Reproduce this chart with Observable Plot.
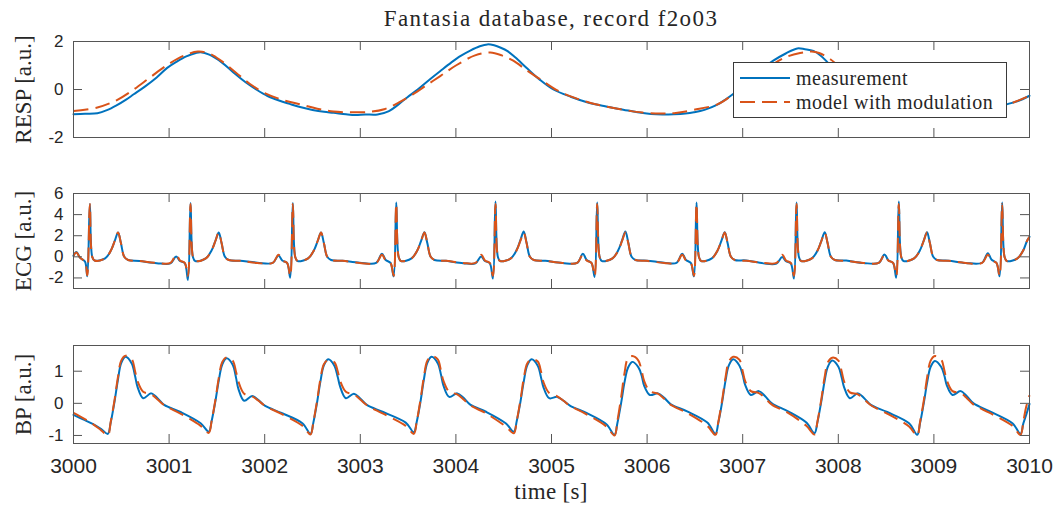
<!DOCTYPE html>
<html>
<head>
<meta charset="utf-8">
<script src="https://cdn.jsdelivr.net/npm/d3@7"></script>
<script src="https://cdn.jsdelivr.net/npm/@observablehq/plot@0.6"></script>
<style>
  html, body { margin: 0; padding: 0; background: #fff; }
  #fig { position: relative; width: 1059px; height: 509px; overflow: hidden; color: #262626;
         font-family: "Liberation Serif", "Times New Roman", serif; }
  #fig .title { position: absolute; left: 73px; width: 956px; top: 6px; text-align: center;
                font-size: 23px; line-height: 26px; letter-spacing: 1.4px; white-space: nowrap; }
  #fig .xlabel { position: absolute; left: 73px; width: 956px; top: 479px; text-align: center;
                 font-size: 23px; line-height: 26px; letter-spacing: 0.3px; white-space: nowrap; }
  #fig .panel { position: absolute; left: 0; }
  #fig .panel svg { display: block; }
  #fig .legend { position: absolute; left: 733px; top: 62px; width: 272px; height: 54px;
                 border: 1px solid #3a3a3a; background: #fff; padding: 0; z-index: 5; }
  #fig .legend .row { display: flex; align-items: center; height: 24px; font-size: 20px;
                      letter-spacing: 0.5px; white-space: nowrap; }
  #fig .legend .row:first-child { margin-top: 3px; }
  #fig .legend svg { margin-left: 6px; margin-right: 6px; flex: none; }
</style>
</head>
<body>
<div id="fig">
  <div class="title">Fantasia database, record f2o03</div>
  <div class="xlabel">time [s]</div>
</div>
<script>
// ---- shared axis data ----
const xTicks = [3000, 3001, 3002, 3003, 3004, 3005, 3006, 3007, 3008, 3009, 3010];
const respTicks = [-2, 0, 2];
const ecgTicks = [-2, 0, 2, 4, 6];
const bpTicks = [-1, 0, 1];

const seriesNames = ["measurement", "model with modulation"];
const panelLabels = ["RESP [a.u.]", "ECG [a.u.]", "BP [a.u.]"];

// ---- respiration ----
const respTime = [
  3000.00, 3000.12, 3000.25, 3000.35, 3000.45, 3000.55, 3000.63, 3000.75, 3000.87, 3000.98,
  3001.08, 3001.18, 3001.28, 3001.33, 3001.42, 3001.55, 3001.67, 3001.80, 3001.92, 3002.03,
  3002.15, 3002.26, 3002.37, 3002.50, 3002.62, 3002.72, 3002.85, 3002.95, 3003.05, 3003.18,
  3003.30, 3003.40, 3003.49, 3003.60, 3003.72, 3003.84, 3003.95, 3004.05, 3004.15, 3004.25,
  3004.33, 3004.40, 3004.47, 3004.54, 3004.62, 3004.75, 3004.88, 3005.02, 3005.20, 3005.38,
  3005.56, 3005.75, 3005.90, 3006.04, 3006.16, 3006.28, 3006.40, 3006.49, 3006.60, 3006.74,
  3006.82, 3006.90, 3007.00, 3007.10, 3007.20, 3007.32, 3007.45, 3007.57, 3007.65, 3007.74,
  3007.82, 3007.89, 3008.00, 3008.20, 3008.45, 3008.70, 3008.95, 3009.20, 3009.45, 3009.65,
  3009.77, 3009.90, 3010.00
];
const respMeasured = [
  -1.03, -1.01, -0.99, -0.86, -0.66, -0.42, -0.20, 0.13, 0.50, 0.90,
  1.16, 1.38, 1.52, 1.55, 1.45, 1.13, 0.72, 0.30, -0.02, -0.27,
  -0.46, -0.60, -0.73, -0.85, -0.93, -0.97, -1.03, -1.06, -1.04, -1.04,
  -0.90, -0.62, -0.33, 0.00, 0.40, 0.78, 1.12, 1.40, 1.62, 1.80,
  1.88, 1.84, 1.74, 1.60, 1.34, 0.86, 0.40, 0.00, -0.30, -0.54,
  -0.70, -0.84, -0.95, -1.02, -1.04, -1.03, -1.00, -0.95, -0.85, -0.62,
  -0.42, -0.19, 0.13, 0.48, 0.85, 1.20, 1.50, 1.71, 1.68, 1.61,
  1.40, 1.12, 0.70, 0.05, -0.50, -0.85, -1.00, -1.02, -0.95, -0.75,
  -0.61, -0.45, -0.26
];
const respModelTime = [
  3000.00, 3000.25, 3000.45, 3000.63, 3000.80, 3000.98, 3001.15, 3001.30, 3001.42, 3001.55,
  3001.70, 3001.85, 3002.00, 3002.20, 3002.37, 3002.55, 3002.72, 3002.90, 3003.10, 3003.25,
  3003.40, 3003.55, 3003.70, 3003.84, 3004.00, 3004.20, 3004.36, 3004.48, 3004.60, 3004.74,
  3004.88, 3005.05, 3005.23, 3005.40, 3005.58, 3005.76, 3005.95, 3006.14, 3006.30, 3006.49,
  3006.74, 3006.90, 3007.05, 3007.20, 3007.32, 3007.45, 3007.60, 3007.72, 3007.80, 3007.92,
  3008.10, 3008.35, 3008.60, 3008.85, 3009.10, 3009.35, 3009.60, 3009.80, 3010.00
];
const respModel = [
  -0.90, -0.75, -0.45, 0.00, 0.50, 1.02, 1.40, 1.58, 1.50, 1.18,
  0.70, 0.22, -0.15, -0.45, -0.62, -0.80, -0.92, -0.95, -0.93, -0.82,
  -0.55, -0.20, 0.20, 0.57, 1.00, 1.42, 1.54, 1.42, 1.20, 0.80,
  0.43, -0.02, -0.33, -0.55, -0.72, -0.85, -0.96, -1.00, -0.98, -0.85,
  -0.61, -0.20, 0.25, 0.68, 1.06, 1.35, 1.52, 1.58, 1.52, 1.25,
  0.65, 0.00, -0.50, -0.82, -0.96, -0.92, -0.72, -0.58, -0.26
];

// ---- ECG (one line per heartbeat) ----
const ecgTime = [
  3000.000, 3000.030, 3000.070, 3000.120, 3000.144, 3000.171, 3000.196, 3000.221, 3000.331, 3000.391, 3000.431, 3000.466, 3000.496, 3000.531, 3000.571, 3000.691, 3000.871,
  3001.014, 3001.074, 3001.114, 3001.164, 3001.197, 3001.224, 3001.249, 3001.274, 3001.384, 3001.444, 3001.484, 3001.519, 3001.549, 3001.584, 3001.624, 3001.744, 3001.924,
  3002.084, 3002.144, 3002.184, 3002.234, 3002.267, 3002.294, 3002.319, 3002.344, 3002.454, 3002.514, 3002.554, 3002.589, 3002.619, 3002.654, 3002.694, 3002.814, 3002.994,
  3003.166, 3003.226, 3003.266, 3003.316, 3003.349, 3003.376, 3003.401, 3003.426, 3003.536, 3003.596, 3003.636, 3003.671, 3003.701, 3003.736, 3003.776, 3003.896, 3004.076,
  3004.204, 3004.264, 3004.304, 3004.354, 3004.387, 3004.414, 3004.439, 3004.464, 3004.574, 3004.634, 3004.674, 3004.709, 3004.739, 3004.774, 3004.814, 3004.934, 3005.114,
  3005.268, 3005.328, 3005.368, 3005.418, 3005.451, 3005.478, 3005.503, 3005.528, 3005.638, 3005.698, 3005.738, 3005.773, 3005.803, 3005.838, 3005.878, 3005.998, 3006.178,
  3006.307, 3006.367, 3006.407, 3006.457, 3006.490, 3006.517, 3006.542, 3006.567, 3006.677, 3006.737, 3006.777, 3006.812, 3006.842, 3006.877, 3006.917, 3007.037, 3007.217,
  3007.353, 3007.413, 3007.453, 3007.503, 3007.536, 3007.563, 3007.588, 3007.613, 3007.723, 3007.783, 3007.823, 3007.858, 3007.888, 3007.923, 3007.963, 3008.083, 3008.263,
  3008.423, 3008.483, 3008.523, 3008.573, 3008.606, 3008.633, 3008.658, 3008.683, 3008.793, 3008.853, 3008.893, 3008.928, 3008.958, 3008.993, 3009.033, 3009.153, 3009.333,
  3009.504, 3009.564, 3009.604, 3009.654, 3009.687, 3009.714, 3009.739, 3009.764, 3009.874, 3009.934, 3009.974, 3010.000
];
const ecgMeasured = [
  0.10, 0.45, -0.10, -0.45, -1.85, 5.00, 0.00, -0.35, -0.15, 0.60, 1.50, 2.30, 1.30, 0.00, -0.30, -0.40, -0.60,
  -0.62, 0.04, -0.40, -0.60, -2.20, 5.10, 0.00, -0.40, -0.15, 0.60, 1.50, 2.30, 1.30, 0.00, -0.30, -0.38, -0.55,
  -0.58, 0.13, -0.35, -0.58, -1.97, 5.10, 0.00, -0.40, -0.15, 0.60, 1.50, 2.30, 1.30, 0.00, -0.30, -0.38, -0.55,
  -0.58, 0.29, -0.30, -0.58, -1.85, 5.15, 0.00, -0.40, -0.15, 0.60, 1.52, 2.33, 1.30, 0.00, -0.30, -0.38, -0.60,
  -0.62, 0.04, -0.40, -0.60, -2.06, 5.25, 0.00, -0.40, -0.15, 0.62, 1.55, 2.40, 1.35, 0.00, -0.30, -0.38, -0.58,
  -0.58, 0.29, -0.30, -0.58, -1.90, 5.15, 0.00, -0.40, -0.15, 0.62, 1.55, 2.40, 1.35, 0.00, -0.30, -0.36, -0.55,
  -0.58, 0.29, -0.30, -0.58, -1.85, 5.15, 0.00, -0.40, -0.15, 0.60, 1.52, 2.33, 1.30, 0.00, -0.30, -0.34, -0.62,
  -0.64, -0.02, -0.42, -0.62, -2.06, 5.15, 0.00, -0.40, -0.15, 0.60, 1.52, 2.33, 1.30, 0.00, -0.30, -0.35, -0.58,
  -0.58, 0.22, -0.32, -0.58, -1.97, 5.25, 0.00, -0.40, -0.15, 0.60, 1.52, 2.33, 1.30, 0.00, -0.30, -0.36, -0.58,
  -0.56, 0.35, -0.28, -0.56, -1.85, 5.15, 0.00, -0.40, -0.15, 0.60, 1.50, 1.90
];
const ecgModel = [
  0.10, 0.40, -0.10, -0.45, -1.75, 5.00, 0.00, -0.35, -0.15, 0.60, 1.50, 2.30, 1.30, 0.00, -0.30, -0.40, -0.58,
  -0.58, 0.20, -0.35, -0.58, -1.80, 5.00, 0.00, -0.40, -0.15, 0.60, 1.50, 2.30, 1.30, 0.00, -0.30, -0.38, -0.58,
  -0.58, 0.20, -0.35, -0.58, -1.80, 5.00, 0.00, -0.40, -0.15, 0.60, 1.50, 2.30, 1.30, 0.00, -0.30, -0.38, -0.58,
  -0.58, 0.20, -0.35, -0.58, -1.80, 5.00, 0.00, -0.40, -0.15, 0.60, 1.50, 2.30, 1.30, 0.00, -0.30, -0.38, -0.58,
  -0.58, 0.20, -0.35, -0.58, -1.80, 5.00, 0.00, -0.40, -0.15, 0.60, 1.50, 2.30, 1.30, 0.00, -0.30, -0.38, -0.58,
  -0.58, 0.20, -0.35, -0.58, -1.80, 5.00, 0.00, -0.40, -0.15, 0.60, 1.50, 2.30, 1.30, 0.00, -0.30, -0.38, -0.58,
  -0.58, 0.20, -0.35, -0.58, -1.80, 5.00, 0.00, -0.40, -0.15, 0.60, 1.50, 2.30, 1.30, 0.00, -0.30, -0.38, -0.58,
  -0.58, 0.20, -0.35, -0.58, -1.80, 5.00, 0.00, -0.40, -0.15, 0.60, 1.50, 2.30, 1.30, 0.00, -0.30, -0.38, -0.58,
  -0.58, 0.20, -0.35, -0.58, -1.80, 5.00, 0.00, -0.40, -0.15, 0.60, 1.50, 2.30, 1.30, 0.00, -0.30, -0.38, -0.58,
  -0.58, 0.20, -0.35, -0.58, -1.80, 5.00, 0.00, -0.40, -0.15, 0.60, 1.50, 1.90
];

// ---- blood pressure (lead-in, one line per pulse, tail) ----
const bpTime = [
  3000.000, 3000.100, 3000.200, 3000.290,
  3000.359, 3000.389, 3000.429, 3000.464, 3000.499, 3000.544, 3000.609, 3000.644, 3000.669, 3000.729, 3000.813, 3000.879, 3000.949, 3001.119, 3001.330,
  3001.415, 3001.445, 3001.485, 3001.520, 3001.555, 3001.600, 3001.665, 3001.700, 3001.725, 3001.785, 3001.869, 3001.935, 3002.005, 3002.175, 3002.394,
  3002.479, 3002.509, 3002.549, 3002.584, 3002.619, 3002.664, 3002.729, 3002.764, 3002.789, 3002.849, 3002.933, 3002.999, 3003.069, 3003.239, 3003.475,
  3003.560, 3003.590, 3003.630, 3003.665, 3003.700, 3003.745, 3003.810, 3003.845, 3003.870, 3003.930, 3004.014, 3004.080, 3004.150, 3004.320, 3004.521,
  3004.606, 3004.636, 3004.676, 3004.711, 3004.746, 3004.791, 3004.856, 3004.891, 3004.916, 3004.976, 3005.060, 3005.126, 3005.196, 3005.366, 3005.574,
  3005.659, 3005.689, 3005.729, 3005.764, 3005.799, 3005.844, 3005.909, 3005.944, 3005.969, 3006.029, 3006.113, 3006.179, 3006.249, 3006.419, 3006.630,
  3006.715, 3006.745, 3006.785, 3006.820, 3006.855, 3006.900, 3006.965, 3007.000, 3007.025, 3007.085, 3007.169, 3007.235, 3007.305, 3007.475, 3007.666,
  3007.751, 3007.781, 3007.821, 3007.856, 3007.891, 3007.936, 3008.001, 3008.036, 3008.061, 3008.121, 3008.205, 3008.271, 3008.341, 3008.511, 3008.740,
  3008.825, 3008.855, 3008.895, 3008.930, 3008.965, 3009.010, 3009.075, 3009.110, 3009.135, 3009.195, 3009.279, 3009.345, 3009.415, 3009.585, 3009.821,
  3009.906, 3009.936, 3009.966, 3010.000
];
const bpMeasured = [
  -0.36, -0.50, -0.64, -0.80,
  -0.95, -0.60, 0.05, 0.72, 1.25, 1.45, 1.24, 0.85, 0.52, 0.16, 0.31, 0.16, -0.05, -0.27, -0.62,
  -0.88, -0.55, 0.08, 0.72, 1.20, 1.40, 1.20, 0.80, 0.45, 0.08, 0.23, 0.10, -0.08, -0.30, -0.62,
  -0.95, -0.60, 0.05, 0.70, 1.18, 1.37, 1.17, 0.82, 0.52, 0.16, 0.30, 0.15, -0.05, -0.27, -0.60,
  -0.90, -0.58, 0.06, 0.74, 1.25, 1.45, 1.25, 0.88, 0.55, 0.20, 0.31, 0.17, -0.04, -0.27, -0.62,
  -0.88, -0.56, 0.06, 0.70, 1.18, 1.37, 1.17, 0.80, 0.50, 0.16, 0.20, 0.08, -0.08, -0.30, -0.65,
  -0.98, -0.62, 0.02, 0.66, 1.10, 1.29, 1.12, 0.85, 0.55, 0.26, 0.31, 0.17, -0.03, -0.25, -0.60,
  -0.95, -0.60, 0.04, 0.70, 1.18, 1.37, 1.18, 0.88, 0.58, 0.26, 0.38, 0.22, 0.00, -0.25, -0.60,
  -0.93, -0.60, 0.04, 0.68, 1.14, 1.33, 1.14, 0.80, 0.50, 0.16, 0.31, 0.16, -0.05, -0.27, -0.62,
  -0.98, -0.62, 0.02, 0.66, 1.13, 1.32, 1.14, 0.86, 0.56, 0.26, 0.38, 0.22, 0.00, -0.25, -0.62,
  -0.95, -0.62, -0.35, -0.02
];
const bpModel = [
  -0.30, -0.46, -0.64, -0.84,
  -0.99, -0.58, 0.10, 0.80, 1.33, 1.48, 1.38, 1.00, 0.70, 0.36, 0.28, 0.12, -0.06, -0.32, -0.70,
  -0.92, -0.55, 0.12, 0.80, 1.28, 1.43, 1.33, 0.98, 0.68, 0.30, 0.22, 0.08, -0.08, -0.33, -0.70,
  -0.97, -0.58, 0.10, 0.78, 1.22, 1.35, 1.28, 1.00, 0.70, 0.36, 0.28, 0.12, -0.06, -0.32, -0.70,
  -0.95, -0.57, 0.12, 0.82, 1.32, 1.47, 1.37, 1.00, 0.70, 0.36, 0.28, 0.12, -0.06, -0.32, -0.72,
  -0.93, -0.55, 0.12, 0.80, 1.24, 1.37, 1.30, 0.98, 0.66, 0.32, 0.22, 0.08, -0.08, -0.34, -0.72,
  -1.00, -0.55, 0.20, 0.95, 1.40, 1.47, 1.33, 1.00, 0.70, 0.38, 0.30, 0.14, -0.05, -0.30, -0.70,
  -0.98, -0.58, 0.10, 0.80, 1.30, 1.45, 1.36, 1.00, 0.70, 0.38, 0.32, 0.16, -0.04, -0.30, -0.70,
  -0.97, -0.58, 0.10, 0.80, 1.28, 1.42, 1.33, 0.98, 0.68, 0.34, 0.28, 0.12, -0.06, -0.32, -0.72,
  -1.00, -0.58, 0.10, 0.82, 1.32, 1.47, 1.37, 1.02, 0.72, 0.38, 0.32, 0.16, -0.04, -0.30, -0.70,
  -0.98, -0.55, -0.10, 0.25
];

// ---- styling ----
const blue = "#0072BD";
const orange = "#D95319";
const axisColor = "#555555";
const textColor = "#262626";
const sansFont = "Liberation Sans, Arial, sans-serif";
const serifFont = "Liberation Serif, Times New Roman, serif";
const dash = "15,7";
const plotWidth = 1059;
const mLeft = 73, mRight = 30;
const frameW = plotWidth - mLeft - mRight;
const tickLen = 9;

const zip = (ts, vs) => ts.map((t, i) => ({t, v: vs[i]}));

function drawPanel({measured, model, yDomain, yTicks, label, top, frameH, marginBottom, xLabels, curve}) {
  const marks = [
    Plot.line(measured, {x: "t", y: "v", stroke: blue, strokeWidth: 2, curve}),
    Plot.line(model, {x: "t", y: "v", stroke: orange, strokeWidth: 2, strokeDasharray: dash,
                      strokeLinecap: "butt", curve}),
    // inward ticks on all four sides
    Plot.tickX(xTicks, {x: d => d, insetTop: frameH - tickLen, stroke: axisColor}),
    Plot.tickX(xTicks, {x: d => d, insetBottom: frameH - tickLen, stroke: axisColor}),
    Plot.tickY(yTicks, {y: d => d, insetRight: frameW - tickLen, stroke: axisColor}),
    Plot.tickY(yTicks, {y: d => d, insetLeft: frameW - tickLen, stroke: axisColor}),
    Plot.frame({stroke: axisColor, strokeWidth: 1}),
    // y tick labels, right-aligned just left of the box
    Plot.text(yTicks, {y: d => d, text: d => String(d), frameAnchor: "left", textAnchor: "end",
                       dx: -10, fontSize: 17, fontFamily: sansFont, fill: textColor,
                       ariaLabel: "y tick label"}),
    // rotated panel label
    Plot.text([label], {text: d => d, frameAnchor: "left", textAnchor: "middle", rotate: -90, dx: -50,
                        fontSize: 23, fontFamily: serifFont, fill: textColor, ariaLabel: "panel label"})
  ];
  if (xLabels) {
    marks.push(Plot.axisX(xTicks, {tickSize: 0, tickPadding: 15, tickFormat: d => String(d), label: null,
                                   fontSize: 21, fontFamily: sansFont, fill: textColor}));
  }
  const svg = Plot.plot({
    width: plotWidth,
    height: 12 + frameH + marginBottom,
    marginLeft: mLeft,
    marginRight: mRight,
    marginTop: 12,
    marginBottom,
    x: {domain: [3000, 3010], axis: null},
    y: {domain: yDomain, axis: null},
    style: {background: "transparent", color: textColor, overflow: "visible", fontFamily: sansFont},
    marks
  });
  svg.querySelectorAll('g[aria-label="panel label"] text').forEach(t => t.style.letterSpacing = "1.3px");
  const holder = document.createElement("div");
  holder.className = "panel";
  holder.style.top = (top - 12) + "px";
  holder.append(svg);
  document.getElementById("fig").append(holder);
}

drawPanel({
  measured: zip(respTime, respMeasured), model: zip(respModelTime, respModel),
  yDomain: [-2, 2], yTicks: respTicks, label: panelLabels[0],
  top: 41, frameH: 96, marginBottom: 12, xLabels: false, curve: "catmull-rom"
});
drawPanel({
  measured: zip(ecgTime, ecgMeasured), model: zip(ecgTime, ecgModel),
  yDomain: [-3, 6], yTicks: ecgTicks, label: panelLabels[1],
  top: 193, frameH: 95, marginBottom: 12, xLabels: false, curve: "catmull-rom"
});
drawPanel({
  measured: zip(bpTime, bpMeasured), model: zip(bpTime, bpModel),
  yDomain: [-1.25, 1.8], yTicks: bpTicks, label: panelLabels[2],
  top: 345, frameH: 98, marginBottom: 40, xLabels: true, curve: "catmull-rom"
});

// legend box
const legend = document.createElement("div");
legend.className = "legend";
seriesNames.forEach((name, i) => {
  const row = document.createElement("div");
  row.className = "row";
  const s = d3.create("svg").attr("width", 50).attr("height", 6);
  s.append("line").attr("x1", 0).attr("x2", 50).attr("y1", 3).attr("y2", 3)
    .attr("stroke", i === 0 ? blue : orange).attr("stroke-width", 2)
    .attr("stroke-dasharray", i === 0 ? null : dash);
  row.append(s.node());
  const span = document.createElement("span");
  span.textContent = name;
  row.append(span);
  legend.append(row);
});
document.getElementById("fig").append(legend);
</script>
</body>
</html>
